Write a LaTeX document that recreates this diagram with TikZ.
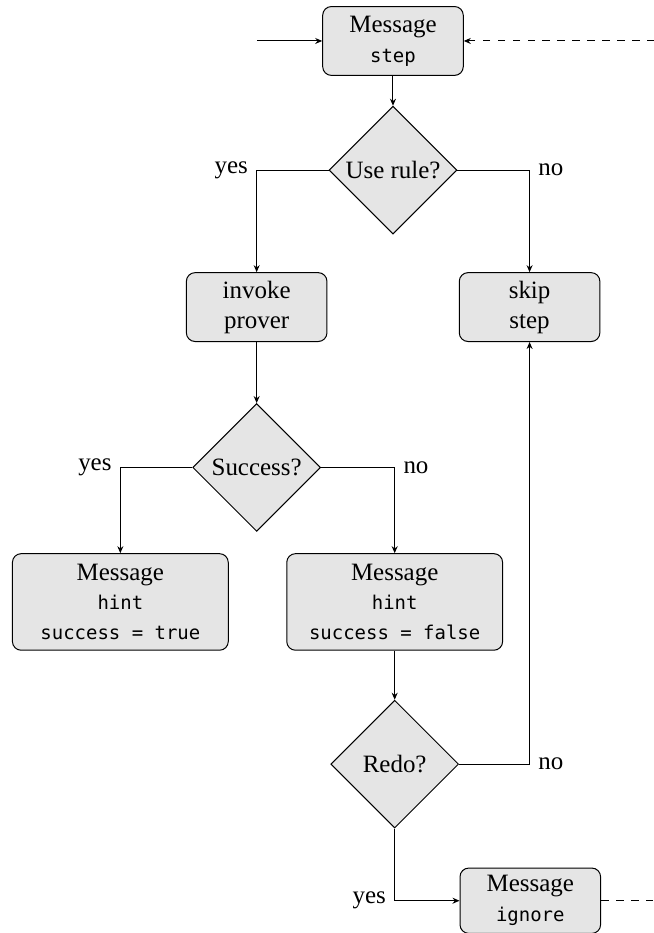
\documentclass[tikz,border=0pt]{standalone}
\usepackage{fontspec}
\setmainfont{Liberation Serif}
\newfontfamily\codefont{DejaVu Sans Mono}[Scale=0.76]
\newcommand{\code}[1]{{\codefont #1}}
\usepackage{tikz}
\usetikzlibrary{positioning, arrows.meta, shapes.geometric}
\tikzset{
    block/.style={
        rectangle, draw, rounded corners=3.5pt,
        fill=black!10,
        minimum width=1.98cm, minimum height=0.97cm,
        align=center, inner sep=2pt
    },
    wideblock/.style={
        block, minimum width=3.04cm, minimum height=1.36cm
    },
    decision/.style={
        diamond, draw, fill=black!10,
        minimum width=1.8cm, minimum height=1.8cm,
        align=center, inner sep=1pt
    },
    flow/.style={
        -{Stealth[length=2.8pt, width=2.4pt]}
    },
    loopback/.style={
        flow, dashed
    }
}

\begin{document}
\begin{tikzpicture}[
    node distance=0.5cm and 1cm
]
\useasboundingbox (0,0) rectangle (9.211,-13.141);

\node[block] (msgstep) at (5.535,-0.577) {Message\\\code{step}};
\node[decision, below=0.42cm of msgstep] (userule) {Use rule?};

\node[block, below=0.53cm of userule, xshift=-1.92cm] (invoke) {invoke\\prover};
\node[block, right=1.85cm of invoke] (skip) {skip\\step};

\node[decision, below=0.86cm of invoke] (success) {Success?};

\node[wideblock, below=0.3cm of success, xshift=-1.92cm] (hinttrue) {Message\\\code{hint}\\\code{success = true}};
\node[wideblock, right=0.81cm of hinttrue] (hintfalse) {Message\\\code{hint}\\\code{success = false}};

\node[decision, below=0.69cm of hintfalse] (redo) {Redo?};
\node[block, below=0.55cm of redo, xshift=1.91cm, minimum height=0.92cm] (ignore) {Message\\\code{ignore}};

\coordinate[left=0.92cm of msgstep] (start);
\coordinate[right=2.69cm of msgstep] (again);
\coordinate[right=0.78cm of ignore] (leave);

\draw[flow] (start) -- (msgstep);
\draw[loopback] (again) -- (msgstep);
\draw[flow] (msgstep) -- (userule);

\draw[flow] (userule.west) -| node[pos=0.5, left] {yes} (invoke.north);
\draw[flow] (userule.east) -| node[pos=0.5, right] {no} (skip.north);

\draw[flow] (invoke) -- (success);

\draw[flow] (success.west) -| node[pos=0.5, left] {yes} (hinttrue.north);
\draw[flow] (success.east) -| node[pos=0.5, right] {no} (hintfalse.north);

\draw[flow] (hintfalse) -- (redo);

\draw[flow] (redo.east) -| node[pos=0.5, right] {no} (skip.south);
\draw[flow] (redo.south) |- node[pos=0.5, left] {yes} (ignore.west);

\draw[dashed] (ignore.east) -- (leave);

\end{tikzpicture}
\end{document}
